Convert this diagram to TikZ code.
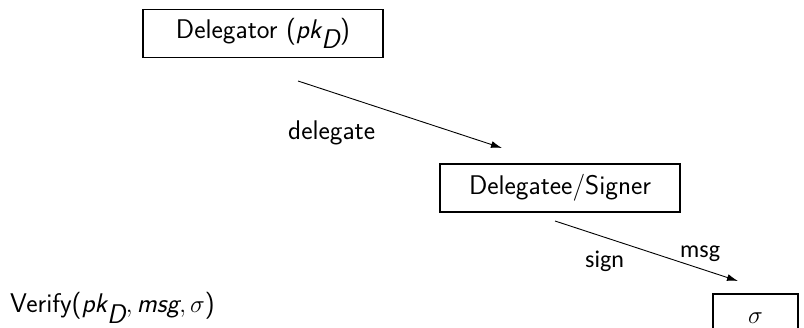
\documentclass[tikz,border=0pt]{standalone}
\usepackage{fontspec}
\usetikzlibrary{arrows.meta}
\newfontfamily\lblfont{Carlito}
\begin{document}
\begin{tikzpicture}[x=1pt,y=-1pt,
  every node/.style={font=\sffamily\fontsize{27}{31}\selectfont\addfontfeature{LetterSpace=3}, inner sep=0pt},
  party/.style={draw=black, line width=1.1pt, minimum width=240pt, minimum height=48pt},
  flow/.style={line width=0.9pt, -{Latex[length=11pt,width=7pt]}},
  lbl/.style={font=\lblfont\fontsize{24}{28}\selectfont, anchor=base west}]
  \useasboundingbox (0,0) rectangle (804,328);
  % parties
  \node[party] (dlg) at (263,33.5) {Delegator ($\textit{pk}_{\textit{D}}$)};
  \node[party] (dge) at (560,188) {Delegatee/Signer};
  \node[party, minimum width=85pt] (sig) at (755.5,318) {$\sigma$};
  % arrow end points
  \coordinate (d0) at (298,81);
  \coordinate (d1) at (502,148);
  \coordinate (s0) at (555,221);
  \coordinate (s1) at (738,281);
  \draw[flow] (d0) -- (d1);
  \draw[flow] (s0) -- (s1);
  % labels
  \node[anchor=base west] (ldel) at (288,140) {delegate};
  \node[lbl] (lsign) at (585,268) {sign};
  \node[lbl] (lmsg) at (680,258) {msg};
  \node[anchor=base west] (ver) at (10,313) {Verify($\textit{pk}_{\textit{D}}, \textit{msg}, \sigma$)};
\end{tikzpicture}
\end{document}
